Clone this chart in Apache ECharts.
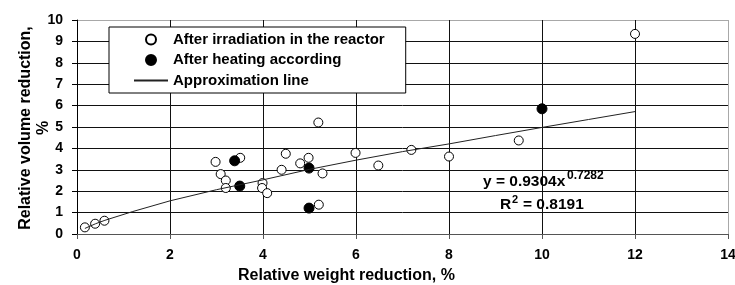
<!DOCTYPE html>
<html><head><meta charset="utf-8">
<script src="https://cdn.jsdelivr.net/npm/echarts@6/dist/echarts.min.js"></script>
<style>html,body{margin:0;padding:0;background:#fff}#c{width:735px;height:285px}</style>
</head><body><div id="c"></div>
<script>
// Open circles: after irradiation in the reactor [x, y]
const irradiatedX = [0.17, 0.39, 0.59, 2.98, 3.51, 3.09, 3.20, 3.20, 3.99, 3.98, 4.09, 4.40, 4.49, 4.80, 4.98, 5.28, 5.20, 5.19, 5.99, 6.48, 7.19, 8.00, 9.50, 12.0];
const irradiatedY = [0.31, 0.48, 0.62, 3.37, 3.56, 2.80, 2.50, 2.15, 2.38, 2.15, 1.91, 3.00, 3.75, 3.30, 3.56, 2.83, 1.37, 5.21, 3.79, 3.20, 3.93, 3.62, 4.37, 9.35];
// Filled circles: after heating
const heatedX = [3.39, 3.50, 4.99, 4.99, 10.0];
const heatedY = [3.42, 2.24, 3.08, 1.21, 5.85];
// Approximation line
const approxX = [0.17, 0.4, 0.6, 1.2, 2, 3, 4, 5, 6, 7, 8, 9, 10, 11, 12];
const approxY = [0.26, 0.48, 0.64, 1.05, 1.55, 2.07, 2.53, 3.02, 3.45, 3.85, 4.21, 4.6, 4.98, 5.35, 5.72];
const xTicks = [0, 2, 4, 6, 8, 10, 12, 14];
const yTicks = [0, 1, 2, 3, 4, 5, 6, 7, 8, 9, 10];
const seriesNames = ['After irradiation in the reactor', 'After heating according', 'Approximation line'];
const eqMain = 'y = 0.9304x', eqExp = '0.7282', r2R = 'R', r2Exp = '2', r2Val = '= 0.8191';

const FF = '"Liberation Sans", Arial, sans-serif';
const zip = (a, b) => a.map((v, i) => [v, b[i]]);
const chart = echarts.init(document.getElementById('c'));
const xSplitColors = xTicks.map((t, i) => i === xTicks.length - 1 ? '#a8a8a8' : '#111');
const ySplitColors = yTicks.map((t, i) => i === yTicks.length - 1 ? '#a8a8a8' : '#111');
chart.setOption({
  animation: false,
  backgroundColor: '#fff',
  grid: { left: 77, right: 7, top: 20, bottom: 51, containLabel: false, outerBoundsMode: 'none' },
  xAxis: {
    type: 'value', min: xTicks[0], max: xTicks[xTicks.length - 1], interval: 2,
    axisLine: { show: true, lineStyle: { color: '#555', width: 1 } },
    axisTick: { show: true, length: 5, lineStyle: { color: '#555' } },
    axisLabel: { margin: 14, color: '#000', fontSize: 14, fontWeight: 'bold', fontFamily: FF },
    splitLine: { show: true, lineStyle: { color: xSplitColors, width: 1 } },
    name: 'Relative weight reduction, %', nameLocation: 'middle', nameGap: 34, nameMoveOverlap: false,
    nameTextStyle: { color: '#000', fontSize: 16, fontWeight: 'bold', fontFamily: FF, padding: [0, 112, 0, 0] }
  },
  yAxis: {
    type: 'value', min: yTicks[0], max: yTicks[yTicks.length - 1], interval: 1,
    axisLine: { show: true, lineStyle: { color: '#000', width: 1 } },
    axisTick: { show: true, length: 5, lineStyle: { color: '#000' } },
    axisLabel: { margin: 14, color: '#000', fontSize: 14, fontWeight: 'bold', fontFamily: FF },
    splitLine: { show: true, lineStyle: { color: ySplitColors, width: 1 } },
    name: 'Relative volume reduction,\n%', nameLocation: 'middle', nameRotate: 90, nameGap: 24, nameMoveOverlap: false,
    nameTextStyle: { color: '#000', fontSize: 16, fontWeight: 'bold', fontFamily: FF, lineHeight: 18, padding: [0, 2, 0, 0] }
  },
  legend: {
    orient: 'vertical', left: 109, top: 27, selectedMode: false,
    backgroundColor: '#fff', borderColor: '#000', borderWidth: 1,
    padding: [5, 21, 5, 24], itemGap: 5.5, itemWidth: 34, itemHeight: 10,
    textStyle: { color: '#000', fontSize: 15, fontWeight: 'bold', fontFamily: FF },
    data: [
      { name: seriesNames[0] },
      { name: seriesNames[1] },
      { name: seriesNames[2], itemStyle: { opacity: 0 } }
    ]
  },
  series: [
    { name: seriesNames[0], type: 'scatter', data: zip(irradiatedX, irradiatedY), symbol: 'circle', symbolSize: 9,
      itemStyle: { color: '#fff', borderColor: '#000', borderWidth: 1, opacity: 1 }, z: 2 },
    { name: seriesNames[1], type: 'scatter', data: zip(heatedX, heatedY), symbol: 'circle', symbolSize: 10,
      itemStyle: { color: '#000', borderColor: '#000', borderWidth: 1, opacity: 1 }, z: 2 },
    { name: seriesNames[2], type: 'line', data: zip(approxX, approxY), symbol: 'none', showSymbol: false,
      lineStyle: { color: '#222', width: 1 }, itemStyle: { color: '#222' }, z: 3 }
  ],
  graphic: [
    { type: 'text', x: 483, y: 181.5, z: 10, style: { text: eqMain, fill: '#000', font: 'bold 15.5px ' + FF, textAlign: 'left', textVerticalAlign: 'middle' } },
    { type: 'text', x: 567, y: 176, z: 10, style: { text: eqExp, fill: '#000', font: 'bold 12px ' + FF, textAlign: 'left', textVerticalAlign: 'middle' } },
    { type: 'text', x: 500, y: 205, z: 10, style: { text: r2R, fill: '#000', font: 'bold 15.5px ' + FF, textAlign: 'left', textVerticalAlign: 'middle' } },
    { type: 'text', x: 512, y: 200, z: 10, style: { text: r2Exp, fill: '#000', font: 'bold 11px ' + FF, textAlign: 'left', textVerticalAlign: 'middle' } },
    { type: 'text', x: 523, y: 205, z: 10, style: { text: r2Val, fill: '#000', font: 'bold 15.5px ' + FF, textAlign: 'left', textVerticalAlign: 'middle' } }
  ]
});
</script></body></html>
